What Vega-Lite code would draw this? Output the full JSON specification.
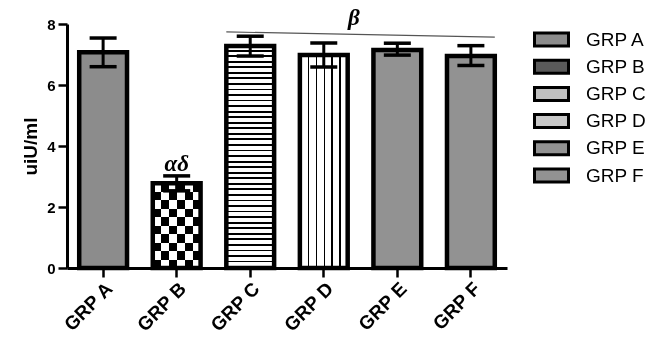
{
  "$schema": "https://vega.github.io/schema/vega-lite/v6.json",
  "width": 440,
  "height": 244,
  "autosize": "none",
  "padding": {"left": 67, "top": 24, "right": 149, "bottom": 70},
  "config": {
    "view": {"stroke": null},
    "font": "Liberation Sans",
    "axis": {"domainColor": "black", "domainWidth": 3, "tickColor": "black", "tickWidth": 2.5, "tickSize": 9, "labelColor": "black", "labelFontWeight": "bold", "grid": false, "titleColor": "black", "titleFontWeight": "bold"},
    "axisX": {"labelAngle": -45, "labelAlign": "right", "labelBaseline": "top", "labelFontSize": 19, "labelPadding": 2},
    "axisY": {"labelFontSize": 15, "labelPadding": 3, "titleFontSize": 19, "titlePadding": 6}
  },
  "datasets": {
    "bars": [
      {"grp": "GRP A", "mean": 7.07, "lo": 6.60, "hi": 7.54},
      {"grp": "GRP B", "mean": 2.78, "lo": 2.53, "hi": 3.02},
      {"grp": "GRP C", "mean": 7.28, "lo": 6.95, "hi": 7.60},
      {"grp": "GRP D", "mean": 6.98, "lo": 6.59, "hi": 7.38},
      {"grp": "GRP E", "mean": 7.15, "lo": 6.98, "hi": 7.37},
      {"grp": "GRP F", "mean": 6.95, "lo": 6.64, "hi": 7.29}
    ],
    "notes": [
      {"grp": "GRP B", "y": 3.18, "label": "αδ"}
    ],
    "beta": [
      {"grp": "GRP D", "y": 7.97, "label": "β"}
    ],
    "line": [
      {"from": "GRP C", "to": "GRP F", "y1": 7.74, "y2": 7.57}
    ]
  },
  "layer": [
    {
      "data": {"name": "bars"},
      "mark": {"type": "bar", "opacity": 1},
      "encoding": {
        "x": {"field": "grp", "type": "nominal", "sort": null, "title": null,
          "scale": {"domain": ["GRP A", "GRP B", "GRP C", "GRP D", "GRP E", "GRP F"], "paddingInner": 0.35, "paddingOuter": 0.166}},
        "y": {"field": "mean", "type": "quantitative", "title": "uiU/ml",
          "scale": {"domain": [0, 8], "nice": false},
          "axis": {"values": [0, 2, 4, 6, 8]}},
        "fill": {"field": "grp", "type": "nominal",
          "scale": {"domain": ["GRP A", "GRP B", "GRP C", "GRP D", "GRP E", "GRP F"], "range": ["#8c8c8c", "#5a5a5a", "#c0c0c0", "#c8c8c8", "#929292", "#929292"]},
          "legend": {"title": null, "orient": "none", "legendX": 475, "legendY": 6, "symbolType": "M-3.4,-1.3H3.4V1.3H-3.4Z", "symbolSize": 100, "symbolStrokeColor": "black", "symbolStrokeWidth": 3, "symbolOpacity": 1, "labelFontSize": 19, "labelColor": "black", "labelOffset": 25, "rowPadding": 2.2, "padding": 0}}
      }
    },
    {
      "data": {"name": "bars"},
      "transform": [{"filter": "datum.grp === 'GRP B'"}],
      "mark": {"type": "bar", "fill": {"gradient": "linear", "x1": 0, "y1": 0, "x2": 0, "y2": 1, "stops": [
        {"offset": 0, "color": "#000"}, {"offset": 0.1, "color": "#000"}, {"offset": 0.1, "color": "#fff"}, {"offset": 0.2, "color": "#fff"},
        {"offset": 0.2, "color": "#000"}, {"offset": 0.3, "color": "#000"}, {"offset": 0.3, "color": "#fff"}, {"offset": 0.4, "color": "#fff"},
        {"offset": 0.4, "color": "#000"}, {"offset": 0.5, "color": "#000"}, {"offset": 0.5, "color": "#fff"}, {"offset": 0.6, "color": "#fff"},
        {"offset": 0.6, "color": "#000"}, {"offset": 0.7, "color": "#000"}, {"offset": 0.7, "color": "#fff"}, {"offset": 0.8, "color": "#fff"},
        {"offset": 0.8, "color": "#000"}, {"offset": 0.9, "color": "#000"}, {"offset": 0.9, "color": "#fff"}, {"offset": 1, "color": "#fff"}
      ]}},
      "encoding": {
        "x": {"field": "grp", "type": "nominal", "sort": null, "title": null},
        "y": {"field": "mean", "type": "quantitative", "title": "uiU/ml"}
      }
    },
    {
      "data": {"name": "bars"},
      "transform": [{"filter": "datum.grp === 'GRP B'"}],
      "mark": {"type": "bar", "blend": "difference", "fill": {"gradient": "linear", "x1": 0, "y1": 0, "x2": 1, "y2": 0, "stops": [
        {"offset": 0, "color": "#fff"}, {"offset": 0.1667, "color": "#fff"}, {"offset": 0.1667, "color": "#000"}, {"offset": 0.3333, "color": "#000"},
        {"offset": 0.3333, "color": "#fff"}, {"offset": 0.5, "color": "#fff"}, {"offset": 0.5, "color": "#000"}, {"offset": 0.6667, "color": "#000"},
        {"offset": 0.6667, "color": "#fff"}, {"offset": 0.8333, "color": "#fff"}, {"offset": 0.8333, "color": "#000"}, {"offset": 1, "color": "#000"}
      ]}},
      "encoding": {
        "x": {"field": "grp", "type": "nominal", "sort": null, "title": null},
        "y": {"field": "mean", "type": "quantitative", "title": "uiU/ml"}
      }
    },
    {
      "data": {"name": "bars"},
      "transform": [{"filter": "datum.grp === 'GRP C'"}],
      "mark": {"type": "bar", "fill": {"gradient": "linear", "x1": 0, "y1": 0, "x2": 0, "y2": 1, "stops": [
        {"offset": 0, "color": "#fff"}, {"offset": 0.0167, "color": "#fff"}, {"offset": 0.0167, "color": "#000"}, {"offset": 0.025, "color": "#000"},
        {"offset": 0.025, "color": "#fff"}, {"offset": 0.0417, "color": "#fff"}, {"offset": 0.0417, "color": "#000"}, {"offset": 0.05, "color": "#000"},
        {"offset": 0.05, "color": "#fff"}, {"offset": 0.0667, "color": "#fff"}, {"offset": 0.0667, "color": "#000"}, {"offset": 0.075, "color": "#000"},
        {"offset": 0.075, "color": "#fff"}, {"offset": 0.0917, "color": "#fff"}, {"offset": 0.0917, "color": "#000"}, {"offset": 0.1, "color": "#000"},
        {"offset": 0.1, "color": "#fff"}, {"offset": 0.1167, "color": "#fff"}, {"offset": 0.1167, "color": "#000"}, {"offset": 0.125, "color": "#000"},
        {"offset": 0.125, "color": "#fff"}, {"offset": 0.1417, "color": "#fff"}, {"offset": 0.1417, "color": "#000"}, {"offset": 0.15, "color": "#000"},
        {"offset": 0.15, "color": "#fff"}, {"offset": 0.1667, "color": "#fff"}, {"offset": 0.1667, "color": "#000"}, {"offset": 0.175, "color": "#000"},
        {"offset": 0.175, "color": "#fff"}, {"offset": 0.1917, "color": "#fff"}, {"offset": 0.1917, "color": "#000"}, {"offset": 0.2, "color": "#000"},
        {"offset": 0.2, "color": "#fff"}, {"offset": 0.2167, "color": "#fff"}, {"offset": 0.2167, "color": "#000"}, {"offset": 0.225, "color": "#000"},
        {"offset": 0.225, "color": "#fff"}, {"offset": 0.2417, "color": "#fff"}, {"offset": 0.2417, "color": "#000"}, {"offset": 0.25, "color": "#000"},
        {"offset": 0.25, "color": "#fff"}, {"offset": 0.2667, "color": "#fff"}, {"offset": 0.2667, "color": "#000"}, {"offset": 0.275, "color": "#000"},
        {"offset": 0.275, "color": "#fff"}, {"offset": 0.2917, "color": "#fff"}, {"offset": 0.2917, "color": "#000"}, {"offset": 0.3, "color": "#000"},
        {"offset": 0.3, "color": "#fff"}, {"offset": 0.3167, "color": "#fff"}, {"offset": 0.3167, "color": "#000"}, {"offset": 0.325, "color": "#000"},
        {"offset": 0.325, "color": "#fff"}, {"offset": 0.3417, "color": "#fff"}, {"offset": 0.3417, "color": "#000"}, {"offset": 0.35, "color": "#000"},
        {"offset": 0.35, "color": "#fff"}, {"offset": 0.3667, "color": "#fff"}, {"offset": 0.3667, "color": "#000"}, {"offset": 0.375, "color": "#000"},
        {"offset": 0.375, "color": "#fff"}, {"offset": 0.3917, "color": "#fff"}, {"offset": 0.3917, "color": "#000"}, {"offset": 0.4, "color": "#000"},
        {"offset": 0.4, "color": "#fff"}, {"offset": 0.4167, "color": "#fff"}, {"offset": 0.4167, "color": "#000"}, {"offset": 0.425, "color": "#000"},
        {"offset": 0.425, "color": "#fff"}, {"offset": 0.4417, "color": "#fff"}, {"offset": 0.4417, "color": "#000"}, {"offset": 0.45, "color": "#000"},
        {"offset": 0.45, "color": "#fff"}, {"offset": 0.4667, "color": "#fff"}, {"offset": 0.4667, "color": "#000"}, {"offset": 0.475, "color": "#000"},
        {"offset": 0.475, "color": "#fff"}, {"offset": 0.4917, "color": "#fff"}, {"offset": 0.4917, "color": "#000"}, {"offset": 0.5, "color": "#000"},
        {"offset": 0.5, "color": "#fff"}, {"offset": 0.5167, "color": "#fff"}, {"offset": 0.5167, "color": "#000"}, {"offset": 0.525, "color": "#000"},
        {"offset": 0.525, "color": "#fff"}, {"offset": 0.5417, "color": "#fff"}, {"offset": 0.5417, "color": "#000"}, {"offset": 0.55, "color": "#000"},
        {"offset": 0.55, "color": "#fff"}, {"offset": 0.5667, "color": "#fff"}, {"offset": 0.5667, "color": "#000"}, {"offset": 0.575, "color": "#000"},
        {"offset": 0.575, "color": "#fff"}, {"offset": 0.5917, "color": "#fff"}, {"offset": 0.5917, "color": "#000"}, {"offset": 0.6, "color": "#000"},
        {"offset": 0.6, "color": "#fff"}, {"offset": 0.6167, "color": "#fff"}, {"offset": 0.6167, "color": "#000"}, {"offset": 0.625, "color": "#000"},
        {"offset": 0.625, "color": "#fff"}, {"offset": 0.6417, "color": "#fff"}, {"offset": 0.6417, "color": "#000"}, {"offset": 0.65, "color": "#000"},
        {"offset": 0.65, "color": "#fff"}, {"offset": 0.6667, "color": "#fff"}, {"offset": 0.6667, "color": "#000"}, {"offset": 0.675, "color": "#000"},
        {"offset": 0.675, "color": "#fff"}, {"offset": 0.6917, "color": "#fff"}, {"offset": 0.6917, "color": "#000"}, {"offset": 0.7, "color": "#000"},
        {"offset": 0.7, "color": "#fff"}, {"offset": 0.7167, "color": "#fff"}, {"offset": 0.7167, "color": "#000"}, {"offset": 0.725, "color": "#000"},
        {"offset": 0.725, "color": "#fff"}, {"offset": 0.7417, "color": "#fff"}, {"offset": 0.7417, "color": "#000"}, {"offset": 0.75, "color": "#000"},
        {"offset": 0.75, "color": "#fff"}, {"offset": 0.7667, "color": "#fff"}, {"offset": 0.7667, "color": "#000"}, {"offset": 0.775, "color": "#000"},
        {"offset": 0.775, "color": "#fff"}, {"offset": 0.7917, "color": "#fff"}, {"offset": 0.7917, "color": "#000"}, {"offset": 0.8, "color": "#000"},
        {"offset": 0.8, "color": "#fff"}, {"offset": 0.8167, "color": "#fff"}, {"offset": 0.8167, "color": "#000"}, {"offset": 0.825, "color": "#000"},
        {"offset": 0.825, "color": "#fff"}, {"offset": 0.8417, "color": "#fff"}, {"offset": 0.8417, "color": "#000"}, {"offset": 0.85, "color": "#000"},
        {"offset": 0.85, "color": "#fff"}, {"offset": 0.8667, "color": "#fff"}, {"offset": 0.8667, "color": "#000"}, {"offset": 0.875, "color": "#000"},
        {"offset": 0.875, "color": "#fff"}, {"offset": 0.8917, "color": "#fff"}, {"offset": 0.8917, "color": "#000"}, {"offset": 0.9, "color": "#000"},
        {"offset": 0.9, "color": "#fff"}, {"offset": 0.9167, "color": "#fff"}, {"offset": 0.9167, "color": "#000"}, {"offset": 0.925, "color": "#000"},
        {"offset": 0.925, "color": "#fff"}, {"offset": 0.9417, "color": "#fff"}, {"offset": 0.9417, "color": "#000"}, {"offset": 0.95, "color": "#000"},
        {"offset": 0.95, "color": "#fff"}, {"offset": 0.9667, "color": "#fff"}, {"offset": 0.9667, "color": "#000"}, {"offset": 0.975, "color": "#000"},
        {"offset": 0.975, "color": "#fff"}, {"offset": 0.9917, "color": "#fff"}, {"offset": 0.9917, "color": "#000"}, {"offset": 1, "color": "#000"}
      ]}},
      "encoding": {
        "x": {"field": "grp", "type": "nominal", "sort": null, "title": null},
        "y": {"field": "mean", "type": "quantitative", "title": "uiU/ml"}
      }
    },
    {
      "data": {"name": "bars"},
      "transform": [{"filter": "datum.grp === 'GRP D'"}],
      "mark": {"type": "bar", "fill": {"gradient": "linear", "x1": 0, "y1": 0, "x2": 1, "y2": 0, "stops": [
        {"offset": 0, "color": "#fff"}, {"offset": 0.167, "color": "#fff"}, {"offset": 0.167, "color": "#000"}, {"offset": 0.194, "color": "#000"},
        {"offset": 0.194, "color": "#fff"}, {"offset": 0.331, "color": "#fff"}, {"offset": 0.331, "color": "#000"}, {"offset": 0.358, "color": "#000"},
        {"offset": 0.358, "color": "#fff"}, {"offset": 0.495, "color": "#fff"}, {"offset": 0.495, "color": "#000"}, {"offset": 0.522, "color": "#000"},
        {"offset": 0.522, "color": "#fff"}, {"offset": 0.659, "color": "#fff"}, {"offset": 0.659, "color": "#000"}, {"offset": 0.686, "color": "#000"},
        {"offset": 0.686, "color": "#fff"}, {"offset": 0.822, "color": "#fff"}, {"offset": 0.822, "color": "#000"}, {"offset": 0.85, "color": "#000"},
        {"offset": 0.85, "color": "#fff"}, {"offset": 1, "color": "#fff"}
      ]}},
      "encoding": {
        "x": {"field": "grp", "type": "nominal", "sort": null, "title": null},
        "y": {"field": "mean", "type": "quantitative", "title": "uiU/ml"}
      }
    },
    {
      "data": {"name": "bars"},
      "mark": {"type": "bar", "fill": "transparent", "stroke": "black", "strokeWidth": 4.5},
      "encoding": {
        "x": {"field": "grp", "type": "nominal", "sort": null, "title": null},
        "y": {"field": "mean", "type": "quantitative", "title": "uiU/ml"}
      }
    },
    {
      "data": {"name": "bars"},
      "mark": {"type": "rule", "color": "black", "strokeWidth": 3},
      "encoding": {
        "x": {"field": "grp", "type": "nominal", "sort": null, "title": null},
        "y": {"field": "lo", "type": "quantitative", "title": "uiU/ml"},
        "y2": {"field": "hi"}
      }
    },
    {
      "data": {"name": "bars"},
      "mark": {"type": "tick", "color": "black", "size": 27, "thickness": 3.5, "opacity": 1},
      "encoding": {
        "x": {"field": "grp", "type": "nominal", "sort": null, "title": null},
        "y": {"field": "hi", "type": "quantitative", "title": "uiU/ml"}
      }
    },
    {
      "data": {"name": "bars"},
      "mark": {"type": "tick", "color": "black", "size": 27, "thickness": 3.5, "opacity": 1},
      "encoding": {
        "x": {"field": "grp", "type": "nominal", "sort": null, "title": null},
        "y": {"field": "lo", "type": "quantitative", "title": "uiU/ml"}
      }
    },
    {
      "data": {"name": "line"},
      "mark": {"type": "rule", "color": "#555555", "strokeWidth": 1.2},
      "encoding": {
        "x": {"field": "from", "type": "nominal", "bandPosition": 0, "title": null},
        "x2": {"field": "to", "bandPosition": 1},
        "y": {"field": "y1", "type": "quantitative", "title": "uiU/ml"},
        "y2": {"field": "y2"}
      }
    },
    {
      "data": {"name": "notes"},
      "mark": {"type": "text", "font": "Liberation Serif", "fontSize": 23, "fontWeight": "bold", "fontStyle": "italic", "color": "black", "baseline": "alphabetic", "align": "center"},
      "encoding": {
        "x": {"field": "grp", "type": "nominal", "title": null},
        "y": {"field": "y", "type": "quantitative", "title": "uiU/ml"},
        "text": {"field": "label"}
      }
    },
    {
      "data": {"name": "beta"},
      "mark": {"type": "text", "font": "Liberation Serif", "fontSize": 23, "fontWeight": "bold", "fontStyle": "italic", "color": "black", "baseline": "alphabetic", "align": "center", "dx": 30},
      "encoding": {
        "x": {"field": "grp", "type": "nominal", "title": null},
        "y": {"field": "y", "type": "quantitative", "title": "uiU/ml"},
        "text": {"field": "label"}
      }
    }
  ]
}
